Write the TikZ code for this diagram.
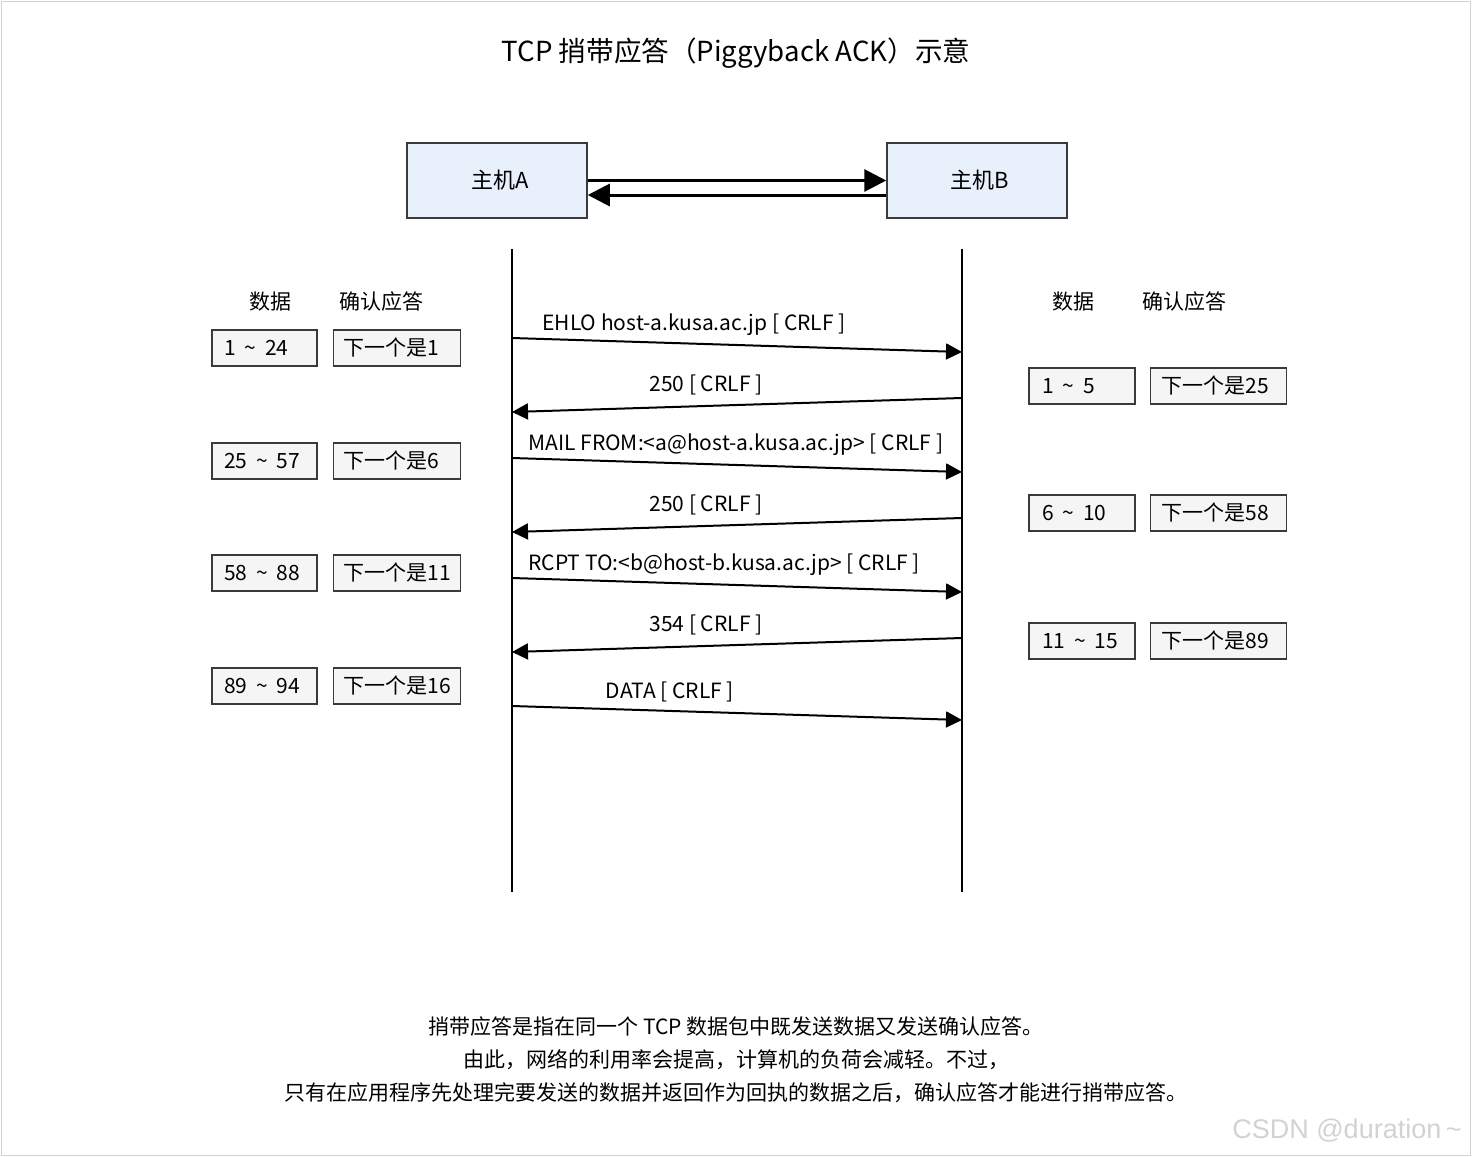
\documentclass[tikz,border=0pt]{standalone}
\usepackage{fontspec}
\setmainfont{Noto Sans CJK SC}
\newfontfamily\wmfont{Liberation Sans}
\usetikzlibrary{arrows.meta, positioning}

\definecolor{hostfill}{HTML}{E8F0FC}
\definecolor{boxfill}{HTML}{F5F5F5}
\definecolor{boxline}{HTML}{3A3A3A}

\newcommand{\rng}[2]{#1\hspace{4.5pt}\textasciitilde\hspace{4.5pt}#2}

\begin{document}
\begin{tikzpicture}[
  x=0.5pt, y=-0.5pt,
  node distance=7.5pt,
  txt/.style={font=\fontsize{10.5}{12}\selectfont, inner sep=0pt, yshift=-1pt},
  host/.style={rectangle, draw=boxline, fill=hostfill, line width=0.75pt, minimum width=90pt, minimum height=37.5pt, font=\fontsize{11}{12}\selectfont},
  box/.style={rectangle, draw=boxline, fill=boxfill, line width=0.75pt, minimum height=18pt, align=left, inner ysep=0pt, font=\fontsize{10.5}{12}\selectfont},
  dbox/.style={box, inner xsep=6pt, text width=40.5pt},
  abox/.style={box, inner xsep=5pt, text width=53.5pt},
  rdbox/.style={box, inner xsep=6.5pt, text width=40pt},
  rabox/.style={box, inner xsep=5.5pt, text width=57pt},
  life/.style={line width=1.3pt},
  msg/.style={-{Triangle[length=8pt, width=8pt]}, line width=1pt},
  harr/.style={-{Triangle[length=11pt, width=11pt]}, line width=1.5pt},
]
\useasboundingbox (0,0) rectangle (1472,1157);
\draw[gray!35, line width=0.5pt] (1,1) rectangle (1470,1155);

% title
\node[txt, font=\fontsize{13.8}{16}\selectfont] (title) at (736,51) {TCP 捎带应答（Piggyback ACK）示意};

% hosts
\node[host] (hostA) at (497,180.5) {\hspace{3pt}主机A};
\node[host] (hostB) at (977,180.5) {\hspace{3pt}主机B};
\draw[harr] (hostA.east) -- (hostB.west);
\draw[harr] ([yshift=-7.25pt]hostB.west) -- ([yshift=-7.25pt]hostA.east);

% lifelines
\coordinate (aTop) at (512,249);
\coordinate (aBot) at (512,892);
\coordinate (bTop) at (962,249);
\coordinate (bBot) at (962,892);
\draw[life] (aTop) -- (aBot);
\draw[life] (bTop) -- (bBot);

% host A side
\node[txt] (lhData) at (270,300) {数据};
\node[txt] (lhAck)  at (381,300) {确认应答};
\node[dbox] (ld1) at (264.5,348) {\rng{1}{24}};
\node[abox, right=of ld1] (la1) {下一个是1};
\node[dbox] (ld2) at (264.5,461) {\rng{25}{57}};
\node[abox, right=of ld2] (la2) {下一个是6};
\node[dbox] (ld3) at (264.5,573) {\rng{58}{88}};
\node[abox, right=of ld3] (la3) {下一个是11};
\node[dbox] (ld4) at (264.5,686) {\rng{89}{94}};
\node[abox, right=of ld4] (la4) {下一个是16};

% host B side
\node[txt] (rhData) at (1073,300) {数据};
\node[txt] (rhAck)  at (1184,300) {确认应答};
\node[rdbox] (rd1) at (1082,386) {\rng{1}{5}};
\node[rabox, right=7pt of rd1] (ra1) {下一个是25};
\node[rdbox] (rd2) at (1082,513) {\rng{6}{10}};
\node[rabox, right=7pt of rd2] (ra2) {下一个是58};
\node[rdbox] (rd3) at (1082,641) {\rng{11}{15}};
\node[rabox, right=7pt of rd3] (ra3) {下一个是89};

% messages
\coordinate (m1a) at (512,338); \coordinate (m1b) at (962,352);
\coordinate (m2b) at (962,398); \coordinate (m2a) at (512,412);
\coordinate (m3a) at (512,458); \coordinate (m3b) at (962,472);
\coordinate (m4b) at (962,518); \coordinate (m4a) at (512,532);
\coordinate (m5a) at (512,578); \coordinate (m5b) at (962,592);
\coordinate (m6b) at (962,638); \coordinate (m6a) at (512,652);
\coordinate (m7a) at (512,706); \coordinate (m7b) at (962,720);

\draw[msg] (m1a) -- (m1b);
\draw[msg] (m2b) -- (m2a);
\draw[msg] (m3a) -- (m3b);
\draw[msg] (m4b) -- (m4a);
\draw[msg] (m5a) -- (m5b);
\draw[msg] (m6b) -- (m6a);
\draw[msg] (m7a) -- (m7b);

\node[txt, anchor=west] (l1) at (542,323) {EHLO host-a.kusa.ac.jp [ CRLF ]};
\node[txt] (l2) at (706,383) {250 [ CRLF ]};
\node[txt, anchor=west] (l3) at (528,443) {MAIL FROM:<a@host-a.kusa.ac.jp> [ CRLF ]};
\node[txt] (l4) at (706,503) {250 [ CRLF ]};
\node[txt, anchor=west] (l5) at (528,563) {RCPT TO:<b@host-b.kusa.ac.jp> [ CRLF ]};
\node[txt] (l6) at (706,623) {354 [ CRLF ]};
\node[txt] (l7) at (670,690) {DATA [ CRLF ]};

% notes
\node[txt] (n1) at (736,1024) {捎带应答是指在同一个 TCP 数据包中既发送数据又发送确认应答。};
\node[txt] (n2) at (736,1058) {由此，网络的利用率会提高，计算机的负荷会减轻。不过，};
\node[txt] (n3) at (736,1091) {只有在应用程序先处理完要发送的数据并返回作为回执的数据之后，确认应答才能进行捎带应答。};

\node[inner sep=0pt, anchor=east, text=gray!35, font=\wmfont\fontsize{13.5}{15}\selectfont] (wm) at (1462,1131) {CSDN @duration\,\textasciitilde};
\end{tikzpicture}
\end{document}
